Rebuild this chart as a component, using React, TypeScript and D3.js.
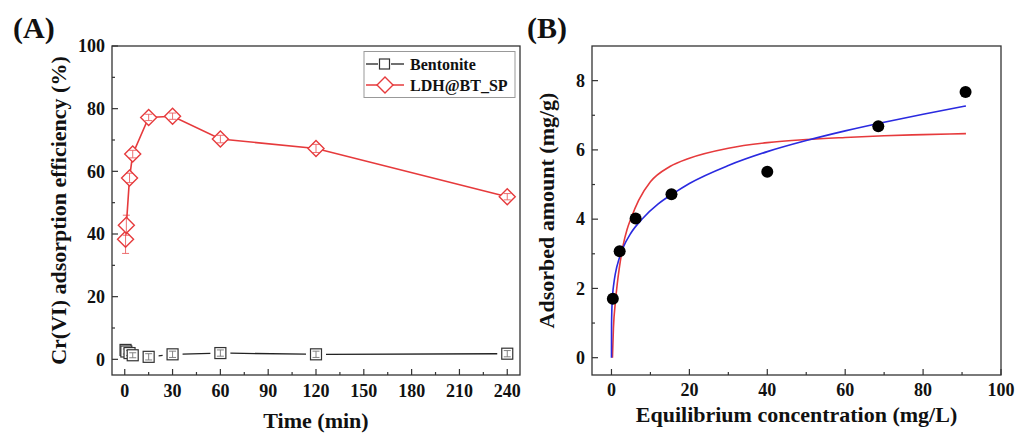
import React from "react";
import * as d3 from "d3";

// ---------- Panel A data ----------
const timesA = [0.5, 1, 3, 5, 15, 30, 60, 120, 240];
const bentonite = [3.0, 2.5, 2.0, 1.3, 0.8, 1.6, 2.0, 1.6, 1.8];
const bentoniteErr = [0.8, 0.8, 0.8, 0.8, 1.0, 1.0, 1.0, 1.0, 1.0];
const ldh = [38.3, 42.8, 57.9, 65.5, 77.2, 77.6, 70.3, 67.3, 51.9];
const ldhErr = [4.5, 3.2, 1.5, 1.2, 1.0, 1.0, 1.2, 1.3, 1.0];
const xTicksA = [0, 30, 60, 90, 120, 150, 180, 210, 240];
const yTicksA = [0, 20, 40, 60, 80, 100];
const seriesNamesA = ["Bentonite", "LDH@BT_SP"];

// ---------- Panel B data ----------
const ceB = [0.35, 2.1, 6.2, 15.4, 40.0, 68.5, 90.9];
const qeB = [1.7, 3.07, 4.02, 4.72, 5.37, 6.68, 7.67];
const redCurveC = [0.25, 0.5, 1, 1.5, 2, 3, 4, 5, 7, 10, 15, 20, 30, 40, 50, 60, 70, 80, 91];
const redCurveQ = [0, 0.85, 1.6, 2.15, 2.58, 3.25, 3.7, 4.02, 4.55, 5.08, 5.52, 5.76, 6.05, 6.21, 6.3, 6.36, 6.41, 6.44, 6.47];
const blueCurveC = [0, 0.02, 0.1, 0.3, 0.6, 1, 2, 3, 5, 8, 12, 16, 20, 30, 40, 50, 60, 70, 80, 91];
const blueCurveQ = [0, 0.94, 1.39, 1.82, 2.14, 2.43, 2.87, 3.18, 3.6, 4.02, 4.44, 4.75, 5.03, 5.55, 5.95, 6.27, 6.55, 6.8, 7.03, 7.27];
const xTicksB = [0, 20, 40, 60, 80, 100];
const yTicksB = [0, 2, 4, 6, 8];

const FONT = "'Liberation Serif', 'Times New Roman', serif";
const AXIS = "#333";
const RED = "#e63a3c";
const BLUE = "#2a2ae0";

function Frame({ x0, x1, y0, y1 }: { x0: number; x1: number; y0: number; y1: number }) {
  return <rect x={x0} y={y0} width={x1 - x0} height={y1 - y0} fill="none" stroke={AXIS} strokeWidth={1.3} />;
}

export default function App() {
  // ----- Panel A scales -----
  const xA = d3.scaleLinear().domain([-8, 248]).range([112, 520]);
  const yA = d3.scaleLinear().domain([-5, 100]).range([375, 46]);
  const minorXA = d3.range(15, 240, 30);
  const minorYA = d3.range(10, 100, 20);

  // ----- Panel B scales -----
  const xB = d3.scaleLinear().domain([-5, 100]).range([592, 1001]);
  const yB = d3.scaleLinear().domain([-0.5, 9]).range([375, 46]);
  const minorXB = d3.range(10, 100, 20);
  const minorYB = d3.range(1, 9, 2);

  const ldhLine = d3.line<number>().x((_, i) => xA(timesA[i])).y((d) => yA(d));

  // Bentonite segments with gaps around the symbols
  const gap = 10;
  const bentSegs: { x1: number; y1: number; x2: number; y2: number }[] = [];
  for (let i = 0; i < timesA.length - 1; i++) {
    const ax = xA(timesA[i]), ay = yA(bentonite[i]);
    const bx = xA(timesA[i + 1]), by = yA(bentonite[i + 1]);
    const len = Math.hypot(bx - ax, by - ay);
    if (len > 2 * gap + 1) {
      const ux = (bx - ax) / len, uy = (by - ay) / len;
      bentSegs.push({ x1: ax + ux * gap, y1: ay + uy * gap, x2: bx - ux * gap, y2: by - uy * gap });
    }
  }

  const curve = d3
    .line<[number, number]>()
    .x((d) => xB(d[0]))
    .y((d) => yB(d[1]))
    .curve(d3.curveMonotoneX);
  const redPts = redCurveC.map((c, i) => [c, redCurveQ[i]] as [number, number]);
  const bluePts = blueCurveC.map((c, i) => [c, blueCurveQ[i]] as [number, number]);

  const sq = 5.5;
  const dm = 8;
  const diamond = (cx: number, cy: number) =>
    `M${cx},${cy - dm}L${cx + dm},${cy}L${cx},${cy + dm}L${cx - dm},${cy}Z`;

  const tickStyle = { fontFamily: FONT, fontWeight: 700, fontSize: 18, fill: "#111" } as const;
  const titleStyle = { fontFamily: FONT, fontWeight: 700, fontSize: 22, fill: "#111" } as const;

  const errBar = (x: number, y: number, e: number, ys: d3.ScaleLinear<number, number>, color: string, key: string) => (
    <g key={key} stroke={color} strokeWidth={0.9} opacity={0.8}>
      <line x1={x} x2={x} y1={ys(y - e)} y2={ys(y + e)} />
      <line x1={x - 3.5} x2={x + 3.5} y1={ys(y - e)} y2={ys(y - e)} />
      <line x1={x - 3.5} x2={x + 3.5} y1={ys(y + e)} y2={ys(y + e)} />
    </g>
  );

  return (
    <svg width={1016} height={434} style={{ position: "absolute", left: 0, top: 0, background: "#fff" }}>
      <rect x={0} y={0} width={1016} height={434} fill="#fff" />

      {/* ================= Panel A ================= */}
      <text x={13} y={38} style={{ fontFamily: FONT, fontWeight: 700, fontSize: 30, fill: "#111" }}>(A)</text>

      {/* ticks */}
      {xTicksA.map((t) => (
        <g key={"xa" + t}>
          <line x1={xA(t)} x2={xA(t)} y1={375} y2={369} stroke={AXIS} strokeWidth={1.2} />
          <text x={xA(t)} y={397} textAnchor="middle" style={tickStyle}>{t}</text>
        </g>
      ))}
      {minorXA.map((t) => (
        <line key={"mxa" + t} x1={xA(t)} x2={xA(t)} y1={375} y2={372} stroke={AXIS} strokeWidth={1.2} />
      ))}
      {yTicksA.map((t) => (
        <g key={"ya" + t}>
          <line x1={112} x2={118} y1={yA(t)} y2={yA(t)} stroke={AXIS} strokeWidth={1.2} />
          <text x={105} y={yA(t)} dy="0.35em" textAnchor="end" style={tickStyle}>{t}</text>
        </g>
      ))}
      {minorYA.map((t) => (
        <line key={"mya" + t} x1={112} x2={115} y1={yA(t)} y2={yA(t)} stroke={AXIS} strokeWidth={1.2} />
      ))}

      {/* bentonite */}
      {bentSegs.map((s, i) => (
        <line key={"bs" + i} {...s} stroke="#222" strokeWidth={1.3} />
      ))}
      {timesA.map((t, i) => (
        <g key={"bm" + i}>
          <rect x={xA(t) - sq} y={yA(bentonite[i]) - sq} width={2 * sq} height={2 * sq} fill="#fff" stroke="#333" strokeWidth={1.2} />
          {errBar(xA(t), bentonite[i], bentoniteErr[i], yA, "#555", "be" + i)}
        </g>
      ))}

      {/* LDH@BT_SP */}
      <path d={ldhLine(ldh) || ""} fill="none" stroke={RED} strokeWidth={1.6} />
      {timesA.map((t, i) => (
        <g key={"lm" + i}>
          <path d={diamond(xA(t), yA(ldh[i]))} fill="#fff" stroke={RED} strokeWidth={1.4} />
          {errBar(xA(t), ldh[i], ldhErr[i], yA, RED, "le" + i)}
        </g>
      ))}

      <Frame x0={112} x1={520} y0={46} y1={375} />

      {/* legend */}
      <rect x={364} y={51.5} width={151} height={46} fill="#fff" stroke="#999" strokeWidth={1} />
      <line x1={366} x2={378} y1={64} y2={64} stroke="#222" strokeWidth={1.3} />
      <line x1={391} x2={404} y1={64} y2={64} stroke="#222" strokeWidth={1.3} />
      <rect x={384.5 - 5} y={64 - 5} width={10} height={10} fill="#fff" stroke="#333" strokeWidth={1.2} />
      <text x={410} y={64} dy="0.35em" style={{ fontFamily: FONT, fontWeight: 700, fontSize: 16, fill: "#111" }}>{seriesNamesA[0]}</text>
      <line x1={366} x2={404} y1={85} y2={85} stroke={RED} strokeWidth={1.5} />
      <path d={`M385,77L393,85L385,93L377,85Z`} fill="#fff" stroke={RED} strokeWidth={1.4} />
      <text x={410} y={85} dy="0.35em" style={{ fontFamily: FONT, fontWeight: 700, fontSize: 16, fill: "#111" }}>{seriesNamesA[1]}</text>

      <text x={316} y={428} textAnchor="middle" style={titleStyle}>Time (min)</text>
      <text transform={`translate(58.5,${(46 + 375) / 2}) rotate(-90)`} textAnchor="middle" dy="0.35em" style={titleStyle}>
        Cr(VI) adsorption efficiency (%)
      </text>

      {/* ================= Panel B ================= */}
      <text x={527} y={38} style={{ fontFamily: FONT, fontWeight: 700, fontSize: 30, fill: "#111" }}>(B)</text>

      {xTicksB.map((t) => (
        <g key={"xb" + t}>
          <line x1={xB(t)} x2={xB(t)} y1={375} y2={369} stroke={AXIS} strokeWidth={1.2} />
          <text x={xB(t)} y={396} textAnchor="middle" style={tickStyle}>{t}</text>
        </g>
      ))}
      {minorXB.map((t) => (
        <line key={"mxb" + t} x1={xB(t)} x2={xB(t)} y1={375} y2={372} stroke={AXIS} strokeWidth={1.2} />
      ))}
      {yTicksB.map((t) => (
        <g key={"yb" + t}>
          <line x1={592} x2={598} y1={yB(t)} y2={yB(t)} stroke={AXIS} strokeWidth={1.2} />
          <text x={585} y={yB(t)} dy="0.35em" textAnchor="end" style={tickStyle}>{t}</text>
        </g>
      ))}
      {minorYB.map((t) => (
        <line key={"myb" + t} x1={592} x2={595} y1={yB(t)} y2={yB(t)} stroke={AXIS} strokeWidth={1.2} />
      ))}

      <path d={curve(redPts) || ""} fill="none" stroke={RED} strokeWidth={1.6} />
      <path d={curve(bluePts) || ""} fill="none" stroke={BLUE} strokeWidth={1.6} />
      {ceB.map((c, i) => (
        <circle key={"pb" + i} cx={xB(c)} cy={yB(qeB[i])} r={6} fill="#000" />
      ))}

      <Frame x0={592} x1={1001} y0={46} y1={375} />

      <text x={796.5} y={422} textAnchor="middle" style={titleStyle}>Equilibrium concentration (mg/L)</text>
      <text transform={`translate(546,${(46 + 375) / 2}) rotate(-90)`} textAnchor="middle" dy="0.35em" style={titleStyle}>
        Adsorbed amount (mg/g)
      </text>
    </svg>
  );
}
